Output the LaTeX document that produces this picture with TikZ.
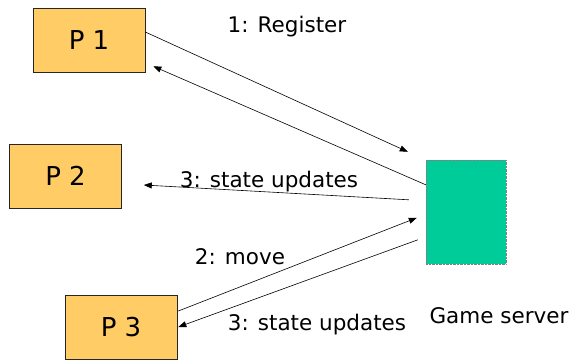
\documentclass[tikz,border=0pt]{standalone}
\usepackage{fontspec}
\setmainfont{DejaVu Sans}
\usetikzlibrary{arrows.meta}
\definecolor{pfill}{HTML}{FFCC66}
\definecolor{gsfill}{HTML}{00CC99}
\begin{document}
\begin{tikzpicture}[x=1pt,y=-1pt,
  pbox/.style={draw=black!85,line width=0.6pt,fill=pfill,minimum width=112pt,minimum height=64pt,inner sep=0pt,font=\fontsize{26}{30}\selectfont},
  server/.style={draw=black!50,densely dotted,line width=0.4pt,fill=gsfill,minimum width=80pt,minimum height=104pt,inner sep=0pt},
  msg/.style={draw=black,line width=0.6pt,-{Triangle[length=8pt,width=6pt]}},
  lbl/.style={inner sep=0pt,font=\fontsize{21.5}{25}\selectfont}]
\useasboundingbox (0,0) rectangle (572,360);
\node[pbox] (p1) at (89,40) {P 1};
\node[pbox] (p2) at (65.5,176) {P 2};
\node[pbox] (p3) at (121,327) {P 3};
\node[server] (gs) at (466,212) {};
\node[lbl] (reg) at (287,27) {1: Register};
\node[lbl] (su2) at (269,182) {3: state updates};
\node[lbl] (mv) at (240,257) {2: move};
\node[lbl] (su3) at (317,325) {3: state updates};
\node[lbl] (gsl) at (499,316) {Game server};
\draw[msg] ([yshift=8pt]p1.east) -- ([xshift=-18pt,yshift=8pt]gs.north west);
\draw[msg] ([yshift=-25pt]gs.north west) -- ([xshift=8pt,yshift=6pt]p1.south east);
\draw[msg] ([xshift=-17pt,yshift=-40pt]gs.north west) -- ([xshift=22pt,yshift=-9pt]p2.east);
\draw[msg] ([xshift=1pt,yshift=16pt]p3.east) -- ([xshift=-9pt,yshift=-58pt]gs.north west);
\draw[msg] ([xshift=-8pt,yshift=-80pt]gs.north west) -- ([xshift=1pt]p3.east);
\end{tikzpicture}
\end{document}
